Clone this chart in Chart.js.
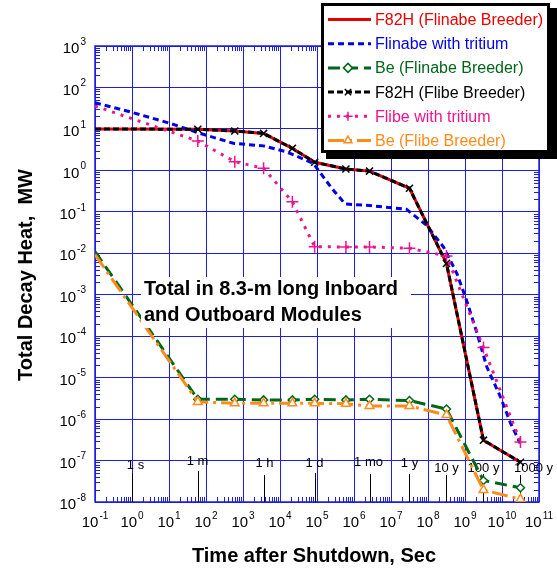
<!DOCTYPE html>
<html>
<head>
<meta charset="utf-8">
<script src="https://cdn.jsdelivr.net/npm/chart.js"></script>
<style>
  html, body { margin: 0; padding: 0; background: #fff; }
  canvas { display: block; }
</style>
</head>
<body>
<canvas id="myChart" width="557" height="569"></canvas>
<script>
// time after shutdown, seconds (0.1 s, 1 m, 10 m, 1 h, 6 h, 1 d, 1 wk, 1 mo, 1 y, 10 y, 100 y, 1000 y)
const times = [0.1, 60, 600, 3600, 21600, 86400, 604800, 2.63e6, 3.156e7, 3.156e8, 3.156e9, 3.156e10];

const f82hFlinabe = [10, 9.8, 8.9, 7.8, 3.4, 1.57, 1.08, 0.96, 0.37, 5.7e-3, 3.1e-7, 9.1e-8];
const f82hFlibe   = [10, 9.8, 8.9, 7.8, 3.4, 1.57, 1.08, 0.96, 0.37, 5.7e-3, 3.1e-7, 9.1e-8];
const flibeTritium = [35.6, 5.1, 1.62, 1.12, 0.175, 0.0144, 0.0142, 0.0142, 0.0132, 8.6e-3, 5.3e-5, 2.8e-7];
const beFlinabe = [0.011, 3.0e-6, 3.0e-6, 2.9e-6, 2.9e-6, 3.0e-6, 2.9e-6, 3.0e-6, 2.8e-6, 1.75e-6, 3.3e-8, 2.2e-8];
const beFlibe   = [9.3e-3, 2.6e-6, 2.4e-6, 2.4e-6, 2.4e-6, 2.4e-6, 2.35e-6, 2.07e-6, 2.07e-6, 1.25e-6, 1.95e-8, 1.17e-8];

// the Flinabe-with-tritium curve has no markers
const flinabeTritiumTimes = [0.1, 1.08, 10.7, 69, 550, 3550, 1.5e4, 7.9e4, 2.7e5, 5.8e5, 2.2e6, 2.6e7, 9e7, 2.6e8, 6e8, 1.1e9, 2.1e9, 3.9e9, 9e9, 1.7e10, 3.1e10];
const flinabeTritium = [43, 24.6, 13.6, 7.8, 4.5, 3.9, 2.8, 1.48, 0.34, 0.154, 0.144, 0.115, 0.048, 0.0144, 3.3e-3, 7.4e-4, 1.2e-4, 1.8e-5, 3.5e-6, 8e-7, 2.6e-7];

const seriesNames = ['F82H (Flinabe Breeder)', 'Flinabe with tritium', 'Be (Flinabe Breeder)',
                     'F82H (Flibe Breeder)', 'Flibe with tritium', 'Be (Flibe Breeder)'];

// time marks along the bottom
const markLabels = ['1 s', '1 m', '1 h', '1 d', '1 mo', '1 y', '10 y', '100 y', '1000 y'];
const markTimes = [1, 60, 3600, 86400, 2.63e6, 3.156e7, 3.156e8, 3.156e9, 3.156e10];

const xExponents = [-1, 0, 1, 2, 3, 4, 5, 6, 7, 8, 9, 10, 11];
const yExponents = [-8, -7, -6, -5, -4, -3, -2, -1, 0, 1, 2, 3];

const FONT = "'Liberation Sans', Arial, sans-serif";
const RED = '#e60000', BLUE = '#0000e6', GREEN = '#00661a', BLACK = '#000000',
      PINK = '#f0148c', ORANGE = '#ff8c1a', GRID = 'rgb(30,30,225)';

function pts(xs, ys) { return xs.map((x, i) => ({ x: x, y: ys[i] })); }
const skipFirst = r => ctx => ctx.dataIndex === 0 ? 0 : r;

function drawPow(ctx, exp, x, y, align) {
  ctx.font = '15px ' + FONT;
  const wb = ctx.measureText('10').width;
  ctx.font = '10px ' + FONT;
  const we = ctx.measureText(String(exp)).width;
  const x0 = align === 'right' ? x - wb - we - 1 : x - (wb + we + 1) / 2;
  ctx.textAlign = 'left';
  ctx.textBaseline = 'middle';
  ctx.font = '15px ' + FONT;
  ctx.fillText('10', x0, y);
  ctx.font = '10px ' + FONT;
  ctx.fillText(String(exp), x0 + wb + 1, y - 7);
}

const decor = {
  id: 'decor',
  beforeDraw(chart) {
    const ctx = chart.ctx;
    ctx.save();
    ctx.fillStyle = '#fff';
    ctx.fillRect(0, 0, chart.width, chart.height);
    ctx.restore();
  },
  beforeDatasetsDraw(chart) {
    const ctx = chart.ctx, a = chart.chartArea;
    const xs = chart.scales.x, ys = chart.scales.y;
    ctx.save();
    // box border and inward minor ticks on all four sides
    ctx.strokeStyle = GRID;
    ctx.lineWidth = 1.5;
    ctx.strokeRect(a.left, a.top, a.right - a.left, a.bottom - a.top);
    ctx.lineWidth = 1;
    ctx.beginPath();
    for (let n = -1; n < 11; n++) {
      for (let k = 2; k <= 9; k++) {
        const px = Math.round(xs.getPixelForValue(k * Math.pow(10, n))) + 0.5;
        ctx.moveTo(px, a.bottom); ctx.lineTo(px, a.bottom - 5);
        ctx.moveTo(px, a.top); ctx.lineTo(px, a.top + 5);
      }
    }
    for (let n = -8; n < 3; n++) {
      for (let k = 2; k <= 9; k++) {
        const py = Math.round(ys.getPixelForValue(k * Math.pow(10, n))) + 0.5;
        ctx.moveTo(a.left, py); ctx.lineTo(a.left + 5, py);
        ctx.moveTo(a.right, py); ctx.lineTo(a.right - 5, py);
      }
    }
    ctx.stroke();

    // time marks
    const labelDy = [-37, -41, -39, -39, -40, -39, -34, -34, -34];
    const lineDy = [-29, -31, -27, -29, -28, -28, -27, -28, -27];
    const labelDx = [3, -1, 0, -1, -2, 0, 0, 0, 13];
    ctx.strokeStyle = '#000';
    ctx.fillStyle = '#000';
    ctx.font = '13px ' + FONT;
    ctx.textAlign = 'center';
    ctx.textBaseline = 'middle';
    markTimes.forEach((t, i) => {
      const px = Math.round(xs.getPixelForValue(t)) + 0.5;
      ctx.beginPath();
      ctx.moveTo(px, a.bottom);
      ctx.lineTo(px, a.bottom + lineDy[i]);
      ctx.stroke();
      ctx.fillText(markLabels[i], px + labelDx[i], a.bottom + labelDy[i]);
    });
    ctx.restore();
  },
  afterDatasetsDraw(chart) {
    const ctx = chart.ctx;
    ctx.save();
    ctx.fillStyle = '#fff';
    ctx.fillRect(141, 277, 270, 51);
    ctx.fillStyle = '#000';
    ctx.font = 'bold 20px ' + FONT;
    ctx.textAlign = 'left';
    ctx.textBaseline = 'middle';
    ctx.fillText('Total in 8.3-m long Inboard', 144, 289);
    ctx.fillText('and Outboard Modules', 144, 315);
    ctx.restore();
  },
  afterDraw(chart) {
    const ctx = chart.ctx, a = chart.chartArea;
    const xs = chart.scales.x, ys = chart.scales.y;
    ctx.save();
    ctx.fillStyle = '#000';
    xExponents.forEach(e => drawPow(ctx, e, xs.getPixelForValue(Math.pow(10, e)), a.bottom + 21, 'center'));
    yExponents.forEach(e => drawPow(ctx, e, 86, ys.getPixelForValue(Math.pow(10, e)) + 3, 'right'));

    // axis titles
    ctx.font = 'bold 20px ' + FONT;
    ctx.textAlign = 'center';
    ctx.textBaseline = 'middle';
    ctx.fillText('Time after Shutdown, Sec', 314, 556);
    ctx.save();
    ctx.translate(26, 275);
    ctx.rotate(-Math.PI / 2);
    ctx.fillText('Total Decay Heat,  MW', 0, 0);
    ctx.restore();

    // legend box with shadow
    ctx.fillStyle = '#000';
    ctx.fillRect(326, 8, 231, 151);
    ctx.fillStyle = '#fff';
    ctx.fillRect(321, 3, 229, 150);
    ctx.strokeStyle = '#000';
    ctx.lineWidth = 3;
    ctx.strokeRect(322.5, 4.5, 226, 147);

    const ds = chart.data.datasets;
    const colors = [RED, BLUE, GREEN, BLACK, PINK, ORANGE];
    ctx.font = '16px ' + FONT;
    ctx.textAlign = 'left';
    ctx.textBaseline = 'middle';
    seriesNames.forEach((name, i) => {
      const y = 19.5 + i * 24.2;
      const d = ds[i];
      ctx.save();
      ctx.strokeStyle = d.borderColor;
      ctx.lineWidth = d.borderWidth;
      ctx.setLineDash(d.borderDash || []);
      ctx.beginPath();
      ctx.moveTo(328, y);
      ctx.lineTo(371, y);
      ctx.stroke();
      ctx.restore();
      if (d.pointStyle) {
        ctx.save();
        ctx.setLineDash([]);
        ctx.strokeStyle = d.pointBorderColor;
        ctx.fillStyle = d.pointBackgroundColor;
        ctx.lineWidth = d.pointBorderWidth;
        Chart.helpers.drawPoint(ctx, { pointStyle: d.pointStyle, radius: 4.5, rotation: 0, borderWidth: d.pointBorderWidth }, 348, y);
        ctx.restore();
      }
      ctx.fillStyle = colors[i];
      ctx.fillText(name, 375, y + 1);
    });
    ctx.restore();
  }
};

const ctx = document.getElementById('myChart').getContext('2d');
const myChart = new Chart(ctx, {
  type: 'scatter',
  data: {
    datasets: [
      { label: seriesNames[0], data: pts(times, f82hFlinabe), showLine: true,
        borderColor: RED, borderWidth: 3, pointRadius: 0, order: 6 },
      { label: seriesNames[1], data: pts(flinabeTritiumTimes, flinabeTritium), showLine: true,
        borderColor: BLUE, borderWidth: 3, borderDash: [6, 4], pointRadius: 0, order: 5 },
      { label: seriesNames[2], data: pts(times, beFlinabe), showLine: true,
        borderColor: GREEN, borderWidth: 3, borderDash: [12, 6],
        pointStyle: 'rectRot', pointRadius: skipFirst(4), pointBackgroundColor: '#fff',
        pointBorderColor: GREEN, pointBorderWidth: 1.5, order: 4 },
      { label: seriesNames[3], data: pts(times, f82hFlibe), showLine: true,
        borderColor: BLACK, borderWidth: 3, borderDash: [6, 3],
        pointStyle: 'crossRot', pointRadius: skipFirst(5), pointBackgroundColor: BLACK,
        pointBorderColor: BLACK, pointBorderWidth: 1.5, order: 3 },
      { label: seriesNames[4], data: pts(times, flibeTritium), showLine: true,
        borderColor: PINK, borderWidth: 3, borderDash: [3, 6],
        pointStyle: 'cross', pointRadius: skipFirst(6), pointBackgroundColor: PINK,
        pointBorderColor: PINK, pointBorderWidth: 1.5, order: 2 },
      { label: seriesNames[5], data: pts(times, beFlibe), showLine: true,
        borderColor: ORANGE, borderWidth: 3, borderDash: [16, 5, 3, 5],
        pointStyle: 'triangle', pointRadius: skipFirst(5), pointBackgroundColor: '#fff',
        pointBorderColor: ORANGE, pointBorderWidth: 1.5, order: 1 }
    ]
  },
  options: {
    responsive: false,
    animation: false,
    devicePixelRatio: 1,
    layout: { padding: { left: 95, right: 18, top: 46, bottom: 67 } },
    plugins: { legend: { display: false }, tooltip: { enabled: false } },
    elements: { line: { tension: 0 } },
    scales: {
      x: {
        type: 'logarithmic', min: 0.1, max: 1e11,
        afterBuildTicks: s => { s.ticks = xExponents.map(e => ({ value: Math.pow(10, e) })); },
        ticks: { display: false },
        grid: { color: GRID, lineWidth: 1, drawTicks: false },
        border: { display: false }
      },
      y: {
        type: 'logarithmic', min: 1e-8, max: 1e3,
        afterBuildTicks: s => { s.ticks = yExponents.map(e => ({ value: Math.pow(10, e) })); },
        ticks: { display: false },
        grid: { color: GRID, lineWidth: 1, drawTicks: false },
        border: { display: false }
      }
    }
  },
  plugins: [decor]
});
</script>
</body>
</html>
